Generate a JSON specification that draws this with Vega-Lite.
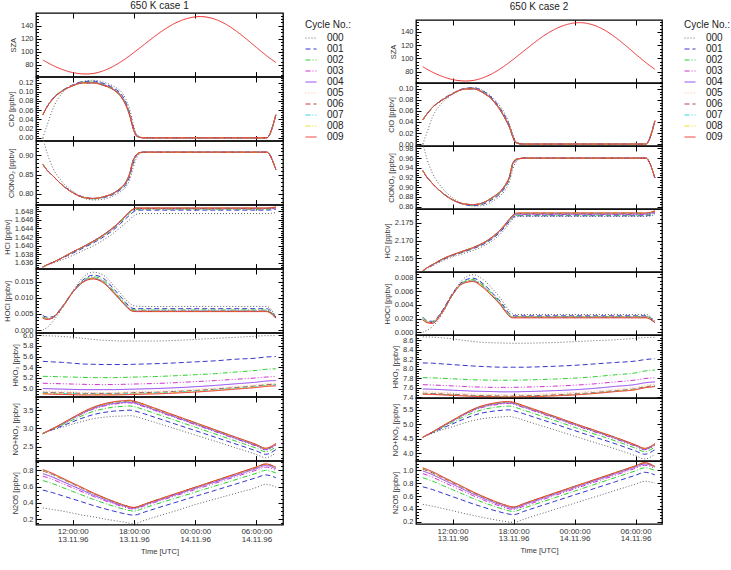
{
"$schema":"https://vega.github.io/schema/vega-lite/v6.json",
"padding":{"left":2,"top":0,"right":0,"bottom":0},
"config":{
 "font":"Liberation Sans",
 "view":{"stroke":"#000","strokeWidth":1.3},
 "line":{"strokeWidth":1,"interpolate":"monotone","clip":true},
 "axis":{"grid":false,"domain":false,"tickColor":"#000","tickSize":-5,"labelPadding":8,"labelColor":"#333","titleColor":"#333","titleFontWeight":"normal","titleFontSize":7.5,"labelFontSize":7.5,"titlePadding":3,"labelOverlap":false},
 "axisX":{"labelFontSize":8,"labelLineHeight":7.5,"maxExtent":0,"minExtent":0},
 "range":{"category":["#606060","#3434d0","#30d030","#d030d0","#8c3cf0","#ffb080","#b84040","#30d8d8","#e8e020","#ee2c2c"]},
 "legend":{"symbolType":"stroke","symbolSize":121,"symbolStrokeWidth":1.2,"labelFontSize":10,"titleFontSize":10,"titleFontWeight":"normal","rowPadding":0,"labelOffset":10,"titleColor":"#222","labelColor":"#222","offset":13,"padding":7,"titlePadding":2},
 "title":{"fontSize":10,"fontWeight":"normal","color":"#222"},
 "concat":{"spacing":0}
},
"datasets":{
"c1":[
{"p":"SZA","t":9.07,"009":87.5},{"p":"SZA","t":10,"009":79.5},{"p":"SZA","t":11,"009":72.8},{"p":"SZA","t":12,"009":68.2},{"p":"SZA","t":13.3,"009":66},{"p":"SZA","t":14,"009":66.8},{"p":"SZA","t":15,"009":70.9},{"p":"SZA","t":16,"009":78},{"p":"SZA","t":17,"009":87.6},{"p":"SZA","t":18,"009":99},{"p":"SZA","t":19,"009":111.2},{"p":"SZA","t":20,"009":123.3},{"p":"SZA","t":21,"009":134.5},{"p":"SZA","t":22,"009":143.6},{"p":"SZA","t":23,"009":150.1},{"p":"SZA","t":24.5,"009":154},{"p":"SZA","t":26,"009":149.6},{"p":"SZA","t":27,"009":142.3},{"p":"SZA","t":28,"009":132},{"p":"SZA","t":29,"009":119.8},{"p":"SZA","t":30,"009":106.7},{"p":"SZA","t":31,"009":93.9},{"p":"SZA","t":31.9,"009":83.5},
{"p":"ClO","t":9.07,"000":0,"001":0.05,"002":0.05,"003":0.05,"004":0.05,"005":0.05,"006":0.05,"007":0.05,"008":0.05,"009":0.05},
{"p":"ClO","t":9.5,"000":0.028,"001":0.068,"002":0.068,"003":0.068,"004":0.068,"005":0.068,"006":0.068,"007":0.068,"008":0.068,"009":0.068},
{"p":"ClO","t":10,"000":0.06,"001":0.084,"002":0.084,"003":0.084,"004":0.083,"005":0.083,"006":0.083,"007":0.083,"008":0.083,"009":0.083},
{"p":"ClO","t":11,"000":0.098,"001":0.103,"002":0.103,"003":0.102,"004":0.102,"005":0.102,"006":0.102,"007":0.102,"008":0.102,"009":0.102},
{"p":"ClO","t":12,"000":0.114,"001":0.115,"002":0.114,"003":0.114,"004":0.113,"005":0.113,"006":0.113,"007":0.113,"008":0.113,"009":0.113},
{"p":"ClO","t":13,"000":0.122,"001":0.122,"002":0.121,"003":0.12,"004":0.12,"005":0.119,"006":0.119,"007":0.119,"008":0.119,"009":0.119},
{"p":"ClO","t":14,"000":0.125,"001":0.123,"002":0.121,"003":0.12,"004":0.12,"005":0.119,"006":0.119,"007":0.119,"008":0.119,"009":0.119},
{"p":"ClO","t":15,"000":0.121,"001":0.118,"002":0.116,"003":0.115,"004":0.115,"005":0.114,"006":0.114,"007":0.114,"008":0.114,"009":0.114},
{"p":"ClO","t":16,"000":0.112,"001":0.108,"002":0.106,"003":0.105,"004":0.105,"005":0.104,"006":0.104,"007":0.104,"008":0.104,"009":0.104},
{"p":"ClO","t":16.7,"000":0.101,"001":0.096,"002":0.093,"003":0.092,"004":0.091,"005":0.09,"006":0.09,"007":0.09,"008":0.09,"009":0.09},
{"p":"ClO","t":17.2,"000":0.084,"001":0.077,"002":0.074,"003":0.073,"004":0.072,"005":0.071,"006":0.071,"007":0.071,"008":0.071,"009":0.071},
{"p":"ClO","t":17.6,"000":0.06,"001":0.052,"002":0.05,"003":0.049,"004":0.048,"005":0.047,"006":0.047,"007":0.047,"008":0.047,"009":0.047},
{"p":"ClO","t":17.9,"000":0.032,"001":0.026,"002":0.024,"003":0.023,"004":0.022,"005":0.022,"006":0.022,"007":0.022,"008":0.022,"009":0.022},
{"p":"ClO","t":18.2,"000":0.01,"001":0.007,"002":0.006,"003":0.006,"004":0.006,"005":0.005,"006":0.005,"007":0.005,"008":0.005,"009":0.005},
{"p":"ClO","t":18.6,"000":0.002,"001":0.001,"002":0.001,"003":0.001,"004":0.001,"005":0.001,"006":0.001,"007":0.001,"008":0.001,"009":0.001},
{"p":"ClO","t":19,"000":0,"001":0,"002":0,"003":0,"004":0,"005":0,"006":0,"007":0,"008":0,"009":0},
{"p":"ClO","t":31,"000":0,"001":0,"002":0,"003":0,"004":0,"005":0,"006":0,"007":0,"008":0,"009":0},
{"p":"ClO","t":31.9,"000":0.048,"001":0.05,"002":0.05,"003":0.05,"004":0.05,"005":0.05,"006":0.05,"007":0.05,"008":0.05,"009":0.05},
{"p":"ClONO2","t":9.07,"000":0.945,"001":0.876,"002":0.876,"003":0.876,"004":0.876,"005":0.876,"006":0.876,"007":0.876,"008":0.876,"009":0.876},
{"p":"ClONO2","t":9.5,"000":0.905,"001":0.861,"002":0.861,"003":0.861,"004":0.861,"005":0.861,"006":0.861,"007":0.861,"008":0.861,"009":0.861},
{"p":"ClONO2","t":10,"000":0.87,"001":0.848,"002":0.848,"003":0.848,"004":0.848,"005":0.848,"006":0.848,"007":0.848,"008":0.848,"009":0.848},
{"p":"ClONO2","t":11,"000":0.83,"001":0.822,"002":0.822,"003":0.822,"004":0.822,"005":0.822,"006":0.822,"007":0.822,"008":0.822,"009":0.822},
{"p":"ClONO2","t":12,"000":0.806,"001":0.804,"002":0.803,"003":0.803,"004":0.803,"005":0.803,"006":0.803,"007":0.803,"008":0.803,"009":0.803},
{"p":"ClONO2","t":13,"000":0.79,"001":0.792,"002":0.791,"003":0.791,"004":0.791,"005":0.791,"006":0.791,"007":0.791,"008":0.791,"009":0.791},
{"p":"ClONO2","t":14,"000":0.784,"001":0.787,"002":0.787,"003":0.788,"004":0.788,"005":0.788,"006":0.788,"007":0.788,"008":0.788,"009":0.788},
{"p":"ClONO2","t":15,"000":0.786,"001":0.79,"002":0.791,"003":0.792,"004":0.792,"005":0.792,"006":0.792,"007":0.792,"008":0.792,"009":0.792},
{"p":"ClONO2","t":16,"000":0.795,"001":0.799,"002":0.801,"003":0.802,"004":0.802,"005":0.802,"006":0.802,"007":0.802,"008":0.802,"009":0.802},
{"p":"ClONO2","t":16.7,"000":0.806,"001":0.811,"002":0.813,"003":0.814,"004":0.815,"005":0.815,"006":0.815,"007":0.815,"008":0.815,"009":0.815},
{"p":"ClONO2","t":17.2,"000":0.818,"001":0.824,"002":0.827,"003":0.829,"004":0.829,"005":0.83,"006":0.83,"007":0.83,"008":0.83,"009":0.83},
{"p":"ClONO2","t":17.6,"000":0.838,"001":0.847,"002":0.851,"003":0.852,"004":0.853,"005":0.854,"006":0.854,"007":0.855,"008":0.855,"009":0.855},
{"p":"ClONO2","t":17.9,"000":0.866,"001":0.877,"002":0.881,"003":0.883,"004":0.884,"005":0.885,"006":0.885,"007":0.886,"008":0.886,"009":0.886},
{"p":"ClONO2","t":18.2,"000":0.89,"001":0.897,"002":0.899,"003":0.9,"004":0.9,"005":0.9,"006":0.9,"007":0.9,"008":0.9,"009":0.9},
{"p":"ClONO2","t":18.6,"000":0.905,"001":0.907,"002":0.907,"003":0.907,"004":0.907,"005":0.907,"006":0.907,"007":0.907,"008":0.907,"009":0.907},
{"p":"ClONO2","t":19,"000":0.908,"001":0.908,"002":0.908,"003":0.908,"004":0.908,"005":0.908,"006":0.908,"007":0.908,"008":0.908,"009":0.908},
{"p":"ClONO2","t":31,"000":0.908,"001":0.908,"002":0.908,"003":0.908,"004":0.908,"005":0.908,"006":0.908,"007":0.908,"008":0.908,"009":0.908},
{"p":"ClONO2","t":31.9,"000":0.863,"001":0.863,"002":0.863,"003":0.863,"004":0.863,"005":0.863,"006":0.863,"007":0.863,"008":0.863,"009":0.863},
{"p":"HCl","t":9.07,"000":1.635,"001":1.635,"002":1.635,"003":1.635,"004":1.635,"005":1.635,"006":1.635,"007":1.635,"008":1.635,"009":1.635},
{"p":"HCl","t":9.5,"000":1.6354,"001":1.6355,"002":1.6355,"003":1.6355,"004":1.6355,"005":1.6355,"006":1.6355,"007":1.6355,"008":1.6355,"009":1.6355},
{"p":"HCl","t":10,"000":1.6358,"001":1.636,"002":1.636,"003":1.636,"004":1.636,"005":1.636,"006":1.636,"007":1.636,"008":1.636,"009":1.636},
{"p":"HCl","t":11,"000":1.6367,"001":1.6371,"002":1.6372,"003":1.6372,"004":1.6372,"005":1.6372,"006":1.6372,"007":1.6372,"008":1.6372,"009":1.6372},
{"p":"HCl","t":12,"000":1.6377,"001":1.6382,"002":1.6384,"003":1.6385,"004":1.6385,"005":1.6385,"006":1.6385,"007":1.6385,"008":1.6385,"009":1.6385},
{"p":"HCl","t":13,"000":1.6388,"001":1.6394,"002":1.6396,"003":1.6397,"004":1.6397,"005":1.6397,"006":1.6397,"007":1.6397,"008":1.6397,"009":1.6397},
{"p":"HCl","t":14,"000":1.6399,"001":1.6406,"002":1.6408,"003":1.6409,"004":1.641,"005":1.641,"006":1.641,"007":1.641,"008":1.641,"009":1.641},
{"p":"HCl","t":15,"000":1.6413,"001":1.642,"002":1.6423,"003":1.6424,"004":1.6425,"005":1.6425,"006":1.6425,"007":1.6425,"008":1.6425,"009":1.6425},
{"p":"HCl","t":16,"000":1.6429,"001":1.6437,"002":1.644,"003":1.6441,"004":1.6442,"005":1.6443,"006":1.6443,"007":1.6443,"008":1.6443,"009":1.6443},
{"p":"HCl","t":16.7,"000":1.6443,"001":1.6452,"002":1.6455,"003":1.6457,"004":1.6458,"005":1.6458,"006":1.6458,"007":1.6458,"008":1.6458,"009":1.6458},
{"p":"HCl","t":17.2,"000":1.6453,"001":1.6463,"002":1.6467,"003":1.6469,"004":1.647,"005":1.647,"006":1.647,"007":1.647,"008":1.647,"009":1.647},
{"p":"HCl","t":17.6,"000":1.6461,"001":1.6472,"002":1.6477,"003":1.6479,"004":1.648,"005":1.648,"006":1.648,"007":1.648,"008":1.648,"009":1.648},
{"p":"HCl","t":17.9,"000":1.6468,"001":1.6478,"002":1.6482,"003":1.6484,"004":1.6485,"005":1.6485,"006":1.6485,"007":1.6485,"008":1.6485,"009":1.6485},
{"p":"HCl","t":18.2,"000":1.6473,"001":1.6482,"002":1.6484,"003":1.6486,"004":1.6487,"005":1.6487,"006":1.6487,"007":1.6488,"008":1.6488,"009":1.6488},
{"p":"HCl","t":18.6,"000":1.6475,"001":1.6483,"002":1.6485,"003":1.6486,"004":1.6487,"005":1.6487,"006":1.6487,"007":1.6488,"008":1.6488,"009":1.6488},
{"p":"HCl","t":19,"000":1.6475,"001":1.6483,"002":1.6485,"003":1.6486,"004":1.6487,"005":1.6487,"006":1.6487,"007":1.6488,"008":1.6488,"009":1.6488},
{"p":"HCl","t":31,"000":1.6475,"001":1.6483,"002":1.6485,"003":1.6486,"004":1.6487,"005":1.6487,"006":1.6487,"007":1.6488,"008":1.6488,"009":1.6488},
{"p":"HCl","t":31.9,"000":1.6477,"001":1.6485,"002":1.6487,"003":1.6488,"004":1.6489,"005":1.6489,"006":1.6489,"007":1.649,"008":1.649,"009":1.649},
{"p":"HOCl","t":9.07,"000":0,"001":0.0045,"002":0.0041,"003":0.0039,"004":0.0038,"005":0.0038,"006":0.0038,"007":0.0038,"008":0.0038,"009":0.0037},
{"p":"HOCl","t":9.5,"000":0.0008,"001":0.004,"002":0.0036,"003":0.0035,"004":0.0034,"005":0.0034,"006":0.0034,"007":0.0034,"008":0.0034,"009":0.0033},
{"p":"HOCl","t":10,"000":0.0025,"001":0.0041,"002":0.0039,"003":0.0038,"004":0.0037,"005":0.0037,"006":0.0037,"007":0.0037,"008":0.0037,"009":0.0037},
{"p":"HOCl","t":11,"000":0.0068,"001":0.0074,"002":0.0073,"003":0.0072,"004":0.0072,"005":0.0072,"006":0.0072,"007":0.0072,"008":0.0072,"009":0.0072},
{"p":"HOCl","t":12,"000":0.012,"001":0.0119,"002":0.0118,"003":0.0117,"004":0.0117,"005":0.0117,"006":0.0117,"007":0.0117,"008":0.0117,"009":0.0117},
{"p":"HOCl","t":13,"000":0.0163,"001":0.0155,"002":0.0152,"003":0.015,"004":0.0149,"005":0.0149,"006":0.0149,"007":0.0149,"008":0.0149,"009":0.0148},
{"p":"HOCl","t":14,"000":0.0179,"001":0.017,"002":0.0165,"003":0.0161,"004":0.016,"005":0.016,"006":0.016,"007":0.016,"008":0.016,"009":0.0158},
{"p":"HOCl","t":15,"000":0.017,"001":0.016,"002":0.0154,"003":0.015,"004":0.0148,"005":0.0148,"006":0.0148,"007":0.0148,"008":0.0148,"009":0.0146},
{"p":"HOCl","t":16,"000":0.0138,"001":0.0128,"002":0.0122,"003":0.0119,"004":0.0117,"005":0.0117,"006":0.0117,"007":0.0117,"008":0.0117,"009":0.0115},
{"p":"HOCl","t":16.7,"000":0.0113,"001":0.0103,"002":0.0097,"003":0.0094,"004":0.0093,"005":0.0093,"006":0.0093,"007":0.0093,"008":0.0093,"009":0.0091},
{"p":"HOCl","t":17.2,"000":0.0094,"001":0.0085,"002":0.008,"003":0.0077,"004":0.0076,"005":0.0076,"006":0.0076,"007":0.0076,"008":0.0076,"009":0.0074},
{"p":"HOCl","t":17.6,"000":0.0082,"001":0.0072,"002":0.0067,"003":0.0065,"004":0.0063,"005":0.0063,"006":0.0063,"007":0.0063,"008":0.0063,"009":0.0062},
{"p":"HOCl","t":17.9,"000":0.0076,"001":0.0067,"002":0.0063,"003":0.006,"004":0.0059,"005":0.0059,"006":0.0059,"007":0.0059,"008":0.0059,"009":0.0058},
{"p":"HOCl","t":18.2,"000":0.0074,"001":0.0066,"002":0.0062,"003":0.0059,"004":0.0058,"005":0.0058,"006":0.0058,"007":0.0058,"008":0.0058,"009":0.0057},
{"p":"HOCl","t":19,"000":0.0073,"001":0.0066,"002":0.0062,"003":0.0059,"004":0.0058,"005":0.0058,"006":0.0058,"007":0.0058,"008":0.0058,"009":0.0057},
{"p":"HOCl","t":31,"000":0.0073,"001":0.0066,"002":0.0062,"003":0.0059,"004":0.0058,"005":0.0058,"006":0.0058,"007":0.0058,"008":0.0058,"009":0.0057},
{"p":"HOCl","t":31.9,"000":0.004,"001":0.004,"002":0.0039,"003":0.0038,"004":0.0037,"005":0.0037,"006":0.0037,"007":0.0037,"008":0.0037,"009":0.0037},
{"p":"HNO3","t":9.07,"000":5.99,"001":5.51,"002":5.23,"003":5.1,"004":5,"005":4.95,"006":4.93,"007":4.92,"008":4.91,"009":4.9},
{"p":"HNO3","t":10,"000":5.985,"001":5.5,"002":5.225,"003":5.095,"004":4.995,"005":4.945,"006":4.925,"007":4.915,"008":4.905,"009":4.895},
{"p":"HNO3","t":11,"000":5.975,"001":5.49,"002":5.22,"003":5.09,"004":4.99,"005":4.94,"006":4.92,"007":4.91,"008":4.9,"009":4.89},
{"p":"HNO3","t":12,"000":5.96,"001":5.475,"002":5.215,"003":5.085,"004":4.985,"005":4.935,"006":4.915,"007":4.905,"008":4.895,"009":4.885},
{"p":"HNO3","t":13,"000":5.94,"001":5.46,"002":5.21,"003":5.08,"004":4.98,"005":4.93,"006":4.91,"007":4.9,"008":4.89,"009":4.88},
{"p":"HNO3","t":14,"000":5.92,"001":5.455,"002":5.205,"003":5.075,"004":4.98,"005":4.93,"006":4.91,"007":4.9,"008":4.89,"009":4.88},
{"p":"HNO3","t":15,"000":5.905,"001":5.45,"002":5.205,"003":5.075,"004":4.98,"005":4.93,"006":4.91,"007":4.9,"008":4.89,"009":4.88},
{"p":"HNO3","t":16,"000":5.895,"001":5.45,"002":5.205,"003":5.075,"004":4.98,"005":4.93,"006":4.91,"007":4.9,"008":4.89,"009":4.88},
{"p":"HNO3","t":17,"000":5.89,"001":5.45,"002":5.21,"003":5.08,"004":4.985,"005":4.935,"006":4.915,"007":4.905,"008":4.895,"009":4.885},
{"p":"HNO3","t":18,"000":5.89,"001":5.455,"002":5.215,"003":5.085,"004":4.99,"005":4.94,"006":4.92,"007":4.91,"008":4.9,"009":4.89},
{"p":"HNO3","t":19,"000":5.89,"001":5.46,"002":5.22,"003":5.09,"004":4.995,"005":4.945,"006":4.925,"007":4.915,"008":4.905,"009":4.895},
{"p":"HNO3","t":20,"000":5.89,"001":5.465,"002":5.225,"003":5.095,"004":5,"005":4.95,"006":4.93,"007":4.92,"008":4.91,"009":4.9},
{"p":"HNO3","t":22,"000":5.9,"001":5.48,"002":5.24,"003":5.11,"004":5.015,"005":4.965,"006":4.945,"007":4.935,"008":4.925,"009":4.915},
{"p":"HNO3","t":24,"000":5.92,"001":5.5,"002":5.26,"003":5.13,"004":5.035,"005":4.985,"006":4.965,"007":4.955,"008":4.945,"009":4.935},
{"p":"HNO3","t":26,"000":5.94,"001":5.52,"002":5.28,"003":5.15,"004":5.06,"005":5.01,"006":4.99,"007":4.98,"008":4.97,"009":4.96},
{"p":"HNO3","t":28,"000":5.96,"001":5.55,"002":5.31,"003":5.175,"004":5.09,"005":5.04,"006":5.02,"007":5.01,"008":5,"009":4.99},
{"p":"HNO3","t":30,"000":5.98,"001":5.57,"002":5.34,"003":5.2,"004":5.12,"005":5.07,"006":5.05,"007":5.04,"008":5.03,"009":5.02},
{"p":"HNO3","t":30.9,"000":5.99,"001":5.59,"002":5.36,"003":5.215,"004":5.14,"005":5.09,"006":5.07,"007":5.06,"008":5.05,"009":5.04},
{"p":"HNO3","t":31.9,"000":5.99,"001":5.6,"002":5.37,"003":5.225,"004":5.15,"005":5.1,"006":5.08,"007":5.07,"008":5.06,"009":5.05},
{"p":"NOx","t":9.07,"000":2.86,"001":2.86,"002":2.86,"003":2.86,"004":2.86,"005":2.86,"006":2.86,"007":2.86,"008":2.86,"009":2.86},
{"p":"NOx","t":10,"000":2.956,"001":2.968,"002":2.978,"003":2.984,"004":2.986,"005":2.987,"006":2.988,"007":2.989,"008":2.989,"009":2.99},
{"p":"NOx","t":11,"000":3.035,"001":3.072,"002":3.101,"003":3.122,"004":3.128,"005":3.133,"006":3.135,"007":3.136,"008":3.137,"009":3.14},
{"p":"NOx","t":12,"000":3.119,"001":3.184,"002":3.233,"003":3.27,"004":3.279,"005":3.287,"006":3.291,"007":3.294,"008":3.296,"009":3.3},
{"p":"NOx","t":13,"000":3.198,"001":3.288,"002":3.357,"003":3.408,"004":3.42,"005":3.432,"006":3.438,"007":3.441,"008":3.444,"009":3.45},
{"p":"NOx","t":14,"000":3.265,"001":3.377,"002":3.464,"003":3.527,"004":3.543,"005":3.558,"006":3.565,"007":3.569,"008":3.572,"009":3.58},
{"p":"NOx","t":15,"000":3.305,"001":3.435,"002":3.535,"003":3.609,"004":3.627,"005":3.644,"006":3.653,"007":3.657,"008":3.661,"009":3.67},
{"p":"NOx","t":16,"000":3.331,"001":3.473,"002":3.583,"003":3.663,"004":3.683,"005":3.701,"006":3.711,"007":3.716,"008":3.72,"009":3.73},
{"p":"NOx","t":17,"000":3.34,"001":3.49,"002":3.605,"003":3.69,"004":3.71,"005":3.73,"006":3.74,"007":3.745,"008":3.75,"009":3.76},
{"p":"NOx","t":17.6,"000":3.35,"001":3.5,"002":3.615,"003":3.7,"004":3.72,"005":3.74,"006":3.75,"007":3.755,"008":3.76,"009":3.77},
{"p":"NOx","t":18,"000":3.334,"001":3.483,"002":3.597,"003":3.681,"004":3.7,"005":3.72,"006":3.73,"007":3.735,"008":3.74,"009":3.75},
{"p":"NOx","t":19,"000":3.257,"001":3.401,"002":3.511,"003":3.593,"004":3.612,"005":3.631,"006":3.641,"007":3.646,"008":3.65,"009":3.66},
{"p":"NOx","t":20,"000":3.169,"001":3.309,"002":3.416,"003":3.495,"004":3.514,"005":3.532,"006":3.541,"007":3.546,"008":3.551,"009":3.56},
{"p":"NOx","t":22,"000":2.995,"001":3.125,"002":3.225,"003":3.299,"004":3.317,"005":3.334,"006":3.343,"007":3.347,"008":3.351,"009":3.36},
{"p":"NOx","t":24,"000":2.82,"001":2.941,"002":3.034,"003":3.103,"004":3.12,"005":3.136,"006":3.144,"007":3.148,"008":3.152,"009":3.16},
{"p":"NOx","t":26,"000":2.645,"001":2.757,"002":2.844,"003":2.907,"004":2.923,"005":2.937,"006":2.945,"007":2.949,"008":2.952,"009":2.96},
{"p":"NOx","t":28,"000":2.466,"001":2.571,"002":2.651,"003":2.711,"004":2.725,"005":2.739,"006":2.746,"007":2.75,"008":2.753,"009":2.76},
{"p":"NOx","t":30,"000":2.287,"001":2.384,"002":2.459,"003":2.514,"004":2.528,"005":2.54,"006":2.547,"007":2.55,"008":2.553,"009":2.56},
{"p":"NOx","t":30.9,"000":2.2,"001":2.293,"002":2.364,"003":2.417,"004":2.429,"005":2.441,"006":2.448,"007":2.451,"008":2.454,"009":2.46},
{"p":"NOx","t":31.9,"000":2.33,"001":2.423,"002":2.494,"003":2.547,"004":2.559,"005":2.571,"006":2.578,"007":2.581,"008":2.584,"009":2.59},
{"p":"N2O5","t":9.07,"000":0.34,"001":0.558,"002":0.675,"003":0.73,"004":0.76,"005":0.785,"006":0.795,"007":0.8,"008":0.805,"009":0.81},
{"p":"N2O5","t":10,"000":0.32,"001":0.528,"002":0.639,"003":0.691,"004":0.719,"005":0.742,"006":0.751,"007":0.756,"008":0.76,"009":0.765},
{"p":"N2O5","t":11,"000":0.3,"001":0.488,"002":0.59,"003":0.638,"004":0.664,"005":0.684,"006":0.693,"007":0.697,"008":0.701,"009":0.705},
{"p":"N2O5","t":12,"000":0.275,"001":0.449,"002":0.542,"003":0.586,"004":0.609,"005":0.627,"006":0.635,"007":0.638,"008":0.642,"009":0.645},
{"p":"N2O5","t":13,"000":0.25,"001":0.409,"002":0.493,"003":0.534,"004":0.554,"005":0.57,"006":0.576,"007":0.579,"008":0.582,"009":0.585},
{"p":"N2O5","t":14,"000":0.23,"001":0.369,"002":0.445,"003":0.482,"004":0.499,"005":0.512,"006":0.518,"007":0.52,"008":0.523,"009":0.525},
{"p":"N2O5","t":15,"000":0.205,"001":0.333,"002":0.401,"003":0.434,"004":0.449,"005":0.46,"006":0.465,"007":0.467,"008":0.469,"009":0.47},
{"p":"N2O5","t":16,"000":0.185,"001":0.3,"002":0.36,"003":0.39,"004":0.403,"005":0.412,"006":0.416,"007":0.417,"008":0.419,"009":0.42},
{"p":"N2O5","t":17,"000":0.165,"001":0.27,"002":0.324,"003":0.351,"004":0.363,"005":0.369,"006":0.372,"007":0.374,"008":0.375,"009":0.375},
{"p":"N2O5","t":18,"000":0.145,"001":0.25,"002":0.3,"003":0.325,"004":0.335,"005":0.34,"006":0.343,"007":0.344,"008":0.345,"009":0.345},
{"p":"N2O5","t":19,"000":0.185,"001":0.287,"002":0.338,"003":0.364,"004":0.374,"005":0.38,"006":0.383,"007":0.384,"008":0.385,"009":0.385},
{"p":"N2O5","t":20,"000":0.225,"001":0.327,"002":0.378,"003":0.405,"004":0.416,"005":0.422,"006":0.425,"007":0.427,"008":0.428,"009":0.428},
{"p":"N2O5","t":22,"000":0.3,"001":0.404,"002":0.456,"003":0.485,"004":0.498,"005":0.505,"006":0.508,"007":0.51,"008":0.511,"009":0.511},
{"p":"N2O5","t":24,"000":0.38,"001":0.481,"002":0.533,"003":0.565,"004":0.58,"005":0.587,"006":0.591,"007":0.592,"008":0.594,"009":0.594},
{"p":"N2O5","t":26,"000":0.45,"001":0.557,"002":0.611,"003":0.645,"004":0.661,"005":0.669,"006":0.673,"007":0.675,"008":0.677,"009":0.677},
{"p":"N2O5","t":28,"000":0.52,"001":0.634,"002":0.688,"003":0.725,"004":0.742,"005":0.751,"006":0.756,"007":0.758,"008":0.76,"009":0.76},
{"p":"N2O5","t":30,"000":0.59,"001":0.711,"002":0.766,"003":0.804,"004":0.824,"005":0.833,"006":0.838,"007":0.84,"008":0.842,"009":0.843},
{"p":"N2O5","t":30.9,"000":0.63,"001":0.745,"002":0.8,"003":0.84,"004":0.86,"005":0.87,"006":0.875,"007":0.877,"008":0.879,"009":0.88},
{"p":"N2O5","t":31.9,"000":0.595,"001":0.71,"002":0.77,"003":0.8,"004":0.82,"005":0.83,"006":0.835,"007":0.837,"008":0.839,"009":0.84}
],
"c2":[
{"p":"SZA","t":9.07,"009":87.5},{"p":"SZA","t":10,"009":79.5},{"p":"SZA","t":11,"009":72.8},{"p":"SZA","t":12,"009":68.2},{"p":"SZA","t":13.3,"009":66},{"p":"SZA","t":14,"009":66.8},{"p":"SZA","t":15,"009":70.9},{"p":"SZA","t":16,"009":78},{"p":"SZA","t":17,"009":87.6},{"p":"SZA","t":18,"009":99},{"p":"SZA","t":19,"009":111.2},{"p":"SZA","t":20,"009":123.3},{"p":"SZA","t":21,"009":134.5},{"p":"SZA","t":22,"009":143.6},{"p":"SZA","t":23,"009":150.1},{"p":"SZA","t":24.5,"009":154},{"p":"SZA","t":26,"009":149.6},{"p":"SZA","t":27,"009":142.3},{"p":"SZA","t":28,"009":132},{"p":"SZA","t":29,"009":119.8},{"p":"SZA","t":30,"009":106.7},{"p":"SZA","t":31,"009":93.9},{"p":"SZA","t":31.9,"009":83.5},
{"p":"ClO","t":9.07,"000":0,"001":0.044,"002":0.044,"003":0.044,"004":0.044,"005":0.044,"006":0.044,"007":0.044,"008":0.044,"009":0.044},
{"p":"ClO","t":9.5,"000":0.022,"001":0.055,"002":0.055,"003":0.055,"004":0.055,"005":0.055,"006":0.055,"007":0.055,"008":0.055,"009":0.055},
{"p":"ClO","t":10,"000":0.048,"001":0.066,"002":0.066,"003":0.066,"004":0.066,"005":0.066,"006":0.066,"007":0.066,"008":0.066,"009":0.066},
{"p":"ClO","t":11,"000":0.075,"001":0.081,"002":0.08,"003":0.08,"004":0.08,"005":0.08,"006":0.08,"007":0.08,"008":0.08,"009":0.08},
{"p":"ClO","t":12,"000":0.09,"001":0.092,"002":0.091,"003":0.091,"004":0.091,"005":0.091,"006":0.091,"007":0.091,"008":0.091,"009":0.091},
{"p":"ClO","t":13,"000":0.1,"001":0.1,"002":0.099,"003":0.099,"004":0.099,"005":0.099,"006":0.099,"007":0.099,"008":0.099,"009":0.099},
{"p":"ClO","t":14,"000":0.102,"001":0.102,"002":0.101,"003":0.101,"004":0.1,"005":0.1,"006":0.1,"007":0.1,"008":0.1,"009":0.1},
{"p":"ClO","t":15,"000":0.097,"001":0.096,"002":0.094,"003":0.094,"004":0.093,"005":0.093,"006":0.093,"007":0.093,"008":0.093,"009":0.093},
{"p":"ClO","t":16,"000":0.083,"001":0.081,"002":0.079,"003":0.079,"004":0.078,"005":0.078,"006":0.078,"007":0.078,"008":0.078,"009":0.078},
{"p":"ClO","t":16.7,"000":0.068,"001":0.064,"002":0.062,"003":0.062,"004":0.061,"005":0.061,"006":0.061,"007":0.061,"008":0.061,"009":0.061},
{"p":"ClO","t":17.2,"000":0.053,"001":0.049,"002":0.046,"003":0.046,"004":0.045,"005":0.045,"006":0.045,"007":0.045,"008":0.045,"009":0.045},
{"p":"ClO","t":17.6,"000":0.036,"001":0.033,"002":0.031,"003":0.031,"004":0.03,"005":0.03,"006":0.03,"007":0.03,"008":0.03,"009":0.03},
{"p":"ClO","t":17.9,"000":0.019,"001":0.016,"002":0.015,"003":0.015,"004":0.014,"005":0.014,"006":0.014,"007":0.014,"008":0.014,"009":0.014},
{"p":"ClO","t":18.2,"000":0.006,"001":0.004,"002":0.003,"003":0.003,"004":0.003,"005":0.003,"006":0.003,"007":0.003,"008":0.003,"009":0.003},
{"p":"ClO","t":18.6,"000":0.001,"001":0.001,"002":0.0005,"003":0.0005,"004":0.0005,"005":0.0005,"006":0.0005,"007":0.0005,"008":0.0005,"009":0.0005},
{"p":"ClO","t":19,"000":0,"001":0,"002":0,"003":0,"004":0,"005":0,"006":0,"007":0,"008":0,"009":0},
{"p":"ClO","t":31,"000":0,"001":0,"002":0,"003":0,"004":0,"005":0,"006":0,"007":0,"008":0,"009":0},
{"p":"ClO","t":31.9,"000":0.04,"001":0.042,"002":0.042,"003":0.042,"004":0.042,"005":0.042,"006":0.042,"007":0.042,"008":0.042,"009":0.042},
{"p":"ClONO2","t":9.07,"000":0.99,"001":0.934,"002":0.934,"003":0.934,"004":0.934,"005":0.934,"006":0.934,"007":0.934,"008":0.934,"009":0.934},
{"p":"ClONO2","t":9.5,"000":0.957,"001":0.92,"002":0.92,"003":0.92,"004":0.92,"005":0.92,"006":0.92,"007":0.92,"008":0.92,"009":0.92},
{"p":"ClONO2","t":10,"000":0.93,"001":0.908,"002":0.908,"003":0.908,"004":0.908,"005":0.908,"006":0.908,"007":0.908,"008":0.908,"009":0.908},
{"p":"ClONO2","t":11,"000":0.898,"001":0.888,"002":0.888,"003":0.888,"004":0.888,"005":0.888,"006":0.888,"007":0.888,"008":0.888,"009":0.888},
{"p":"ClONO2","t":12,"000":0.878,"001":0.874,"002":0.874,"003":0.874,"004":0.874,"005":0.874,"006":0.874,"007":0.874,"008":0.874,"009":0.874},
{"p":"ClONO2","t":13,"000":0.866,"001":0.865,"002":0.866,"003":0.866,"004":0.866,"005":0.866,"006":0.866,"007":0.866,"008":0.866,"009":0.866},
{"p":"ClONO2","t":14,"000":0.861,"001":0.862,"002":0.863,"003":0.864,"004":0.864,"005":0.864,"006":0.864,"007":0.864,"008":0.864,"009":0.864},
{"p":"ClONO2","t":15,"000":0.862,"001":0.865,"002":0.867,"003":0.868,"004":0.868,"005":0.868,"006":0.868,"007":0.868,"008":0.868,"009":0.868},
{"p":"ClONO2","t":16,"000":0.872,"001":0.876,"002":0.878,"003":0.88,"004":0.88,"005":0.88,"006":0.88,"007":0.88,"008":0.88,"009":0.88},
{"p":"ClONO2","t":16.7,"000":0.882,"001":0.887,"002":0.889,"003":0.891,"004":0.891,"005":0.891,"006":0.891,"007":0.891,"008":0.891,"009":0.891},
{"p":"ClONO2","t":17.2,"000":0.895,"001":0.901,"002":0.903,"003":0.905,"004":0.905,"005":0.905,"006":0.905,"007":0.905,"008":0.905,"009":0.905},
{"p":"ClONO2","t":17.6,"000":0.912,"001":0.918,"002":0.92,"003":0.922,"004":0.922,"005":0.922,"006":0.922,"007":0.922,"008":0.922,"009":0.922},
{"p":"ClONO2","t":17.9,"000":0.935,"001":0.944,"002":0.946,"003":0.948,"004":0.948,"005":0.948,"006":0.948,"007":0.948,"008":0.948,"009":0.948},
{"p":"ClONO2","t":18.2,"000":0.951,"001":0.955,"002":0.956,"003":0.957,"004":0.957,"005":0.957,"006":0.957,"007":0.957,"008":0.957,"009":0.957},
{"p":"ClONO2","t":18.6,"000":0.958,"001":0.959,"002":0.959,"003":0.959,"004":0.959,"005":0.959,"006":0.959,"007":0.959,"008":0.959,"009":0.959},
{"p":"ClONO2","t":19,"000":0.96,"001":0.96,"002":0.96,"003":0.96,"004":0.96,"005":0.96,"006":0.96,"007":0.96,"008":0.96,"009":0.96},
{"p":"ClONO2","t":31,"000":0.96,"001":0.96,"002":0.96,"003":0.96,"004":0.96,"005":0.96,"006":0.96,"007":0.96,"008":0.96,"009":0.96},
{"p":"ClONO2","t":31.9,"000":0.919,"001":0.919,"002":0.919,"003":0.919,"004":0.919,"005":0.919,"006":0.919,"007":0.919,"008":0.919,"009":0.919},
{"p":"HCl","t":9.07,"000":2.1615,"001":2.1615,"002":2.1615,"003":2.1615,"004":2.1615,"005":2.1615,"006":2.1615,"007":2.1615,"008":2.1615,"009":2.1615},
{"p":"HCl","t":9.5,"000":2.1622,"001":2.1623,"002":2.1624,"003":2.1624,"004":2.1624,"005":2.1624,"006":2.1624,"007":2.1624,"008":2.1624,"009":2.1624},
{"p":"HCl","t":10,"000":2.1629,"001":2.1631,"002":2.1632,"003":2.1632,"004":2.1632,"005":2.1632,"006":2.1632,"007":2.1632,"008":2.1632,"009":2.1632},
{"p":"HCl","t":11,"000":2.1643,"001":2.1646,"002":2.1647,"003":2.1648,"004":2.1648,"005":2.1648,"006":2.1648,"007":2.1648,"008":2.1648,"009":2.1648},
{"p":"HCl","t":12,"000":2.1654,"001":2.1658,"002":2.1659,"003":2.166,"004":2.166,"005":2.166,"006":2.166,"007":2.166,"008":2.166,"009":2.166},
{"p":"HCl","t":13,"000":2.1663,"001":2.1667,"002":2.1668,"003":2.1669,"004":2.167,"005":2.167,"006":2.167,"007":2.167,"008":2.167,"009":2.167},
{"p":"HCl","t":14,"000":2.1672,"001":2.1677,"002":2.1678,"003":2.1679,"004":2.168,"005":2.168,"006":2.168,"007":2.168,"008":2.168,"009":2.168},
{"p":"HCl","t":15,"000":2.1684,"001":2.1689,"002":2.1691,"003":2.1692,"004":2.1693,"005":2.1693,"006":2.1693,"007":2.1693,"008":2.1693,"009":2.1693},
{"p":"HCl","t":16,"000":2.1701,"001":2.1707,"002":2.1709,"003":2.171,"004":2.1711,"005":2.1711,"006":2.1712,"007":2.1712,"008":2.1712,"009":2.1712},
{"p":"HCl","t":16.7,"000":2.1718,"001":2.1724,"002":2.1727,"003":2.1728,"004":2.1729,"005":2.1729,"006":2.173,"007":2.173,"008":2.173,"009":2.173},
{"p":"HCl","t":17.2,"000":2.1734,"001":2.174,"002":2.1743,"003":2.1744,"004":2.1745,"005":2.1745,"006":2.1746,"007":2.1746,"008":2.1746,"009":2.1746},
{"p":"HCl","t":17.6,"000":2.1748,"001":2.1754,"002":2.1757,"003":2.1758,"004":2.1759,"005":2.1759,"006":2.176,"007":2.176,"008":2.176,"009":2.176},
{"p":"HCl","t":17.9,"000":2.1759,"001":2.1763,"002":2.1766,"003":2.1767,"004":2.1768,"005":2.1768,"006":2.1769,"007":2.1769,"008":2.177,"009":2.177},
{"p":"HCl","t":18.2,"000":2.1765,"001":2.1768,"002":2.177,"003":2.1772,"004":2.1773,"005":2.1774,"006":2.1775,"007":2.1775,"008":2.1776,"009":2.1776},
{"p":"HCl","t":18.6,"000":2.1767,"001":2.1769,"002":2.1771,"003":2.1773,"004":2.1774,"005":2.1775,"006":2.1776,"007":2.1776,"008":2.1777,"009":2.1777},
{"p":"HCl","t":19,"000":2.1767,"001":2.1769,"002":2.1771,"003":2.1773,"004":2.1774,"005":2.1775,"006":2.1776,"007":2.1776,"008":2.1777,"009":2.1777},
{"p":"HCl","t":31,"000":2.1767,"001":2.1769,"002":2.1771,"003":2.1773,"004":2.1774,"005":2.1775,"006":2.1776,"007":2.1776,"008":2.1777,"009":2.1777},
{"p":"HCl","t":31.9,"000":2.1772,"001":2.1775,"002":2.1777,"003":2.1779,"004":2.178,"005":2.1781,"006":2.1782,"007":2.1782,"008":2.1783,"009":2.1783},
{"p":"HOCl","t":9.07,"000":0,"001":0.0022,"002":0.002,"003":0.0019,"004":0.0019,"005":0.0019,"006":0.0019,"007":0.0019,"008":0.0019,"009":0.0018},
{"p":"HOCl","t":9.5,"000":0.0003,"001":0.0017,"002":0.0016,"003":0.0015,"004":0.0015,"005":0.0015,"006":0.0015,"007":0.0015,"008":0.0015,"009":0.0014},
{"p":"HOCl","t":10,"000":0.0008,"001":0.0016,"002":0.0015,"003":0.0014,"004":0.0014,"005":0.0014,"006":0.0014,"007":0.0014,"008":0.0014,"009":0.0013},
{"p":"HOCl","t":11,"000":0.0027,"001":0.0032,"002":0.0031,"003":0.003,"004":0.003,"005":0.003,"006":0.003,"007":0.003,"008":0.003,"009":0.003},
{"p":"HOCl","t":12,"000":0.0056,"001":0.0057,"002":0.0056,"003":0.0055,"004":0.0055,"005":0.0055,"006":0.0055,"007":0.0055,"008":0.0055,"009":0.0055},
{"p":"HOCl","t":13,"000":0.0077,"001":0.0074,"002":0.0073,"003":0.0072,"004":0.0072,"005":0.0072,"006":0.0072,"007":0.0072,"008":0.0072,"009":0.0071},
{"p":"HOCl","t":14,"000":0.0084,"001":0.0079,"002":0.0077,"003":0.0075,"004":0.0075,"005":0.0075,"006":0.0075,"007":0.0075,"008":0.0075,"009":0.0074},
{"p":"HOCl","t":15,"000":0.0077,"001":0.0071,"002":0.0069,"003":0.0067,"004":0.0067,"005":0.0067,"006":0.0067,"007":0.0067,"008":0.0067,"009":0.0065},
{"p":"HOCl","t":16,"000":0.0062,"001":0.0056,"002":0.0054,"003":0.0052,"004":0.0052,"005":0.0052,"006":0.0052,"007":0.0052,"008":0.0052,"009":0.0051},
{"p":"HOCl","t":16.7,"000":0.005,"001":0.0045,"002":0.0043,"003":0.0041,"004":0.0041,"005":0.0041,"006":0.0041,"007":0.0041,"008":0.0041,"009":0.004},
{"p":"HOCl","t":17.2,"000":0.0039,"001":0.0035,"002":0.0033,"003":0.0031,"004":0.0031,"005":0.0031,"006":0.0031,"007":0.0031,"008":0.0031,"009":0.003},
{"p":"HOCl","t":17.6,"000":0.0031,"001":0.0027,"002":0.0025,"003":0.0024,"004":0.0024,"005":0.0024,"006":0.0024,"007":0.0024,"008":0.0024,"009":0.0023},
{"p":"HOCl","t":17.9,"000":0.0027,"001":0.0025,"002":0.0023,"003":0.0022,"004":0.0022,"005":0.0022,"006":0.0022,"007":0.0022,"008":0.0022,"009":0.0021},
{"p":"HOCl","t":18.2,"000":0.0026,"001":0.0024,"002":0.0023,"003":0.0022,"004":0.0022,"005":0.0022,"006":0.0022,"007":0.0022,"008":0.0022,"009":0.0021},
{"p":"HOCl","t":19,"000":0.0026,"001":0.0024,"002":0.0023,"003":0.0022,"004":0.0022,"005":0.0022,"006":0.0022,"007":0.0022,"008":0.0022,"009":0.0021},
{"p":"HOCl","t":31,"000":0.0026,"001":0.0024,"002":0.0023,"003":0.0022,"004":0.0022,"005":0.0022,"006":0.0022,"007":0.0022,"008":0.0022,"009":0.0021},
{"p":"HOCl","t":31.9,"000":0.0016,"001":0.0015,"002":0.0015,"003":0.0014,"004":0.0014,"005":0.0014,"006":0.0014,"007":0.0014,"008":0.0014,"009":0.0014},
{"p":"HNO3","t":9.07,"000":8.67,"001":8.12,"002":7.81,"003":7.66,"004":7.57,"005":7.51,"006":7.48,"007":7.47,"008":7.465,"009":7.46},
{"p":"HNO3","t":10,"000":8.665,"001":8.115,"002":7.805,"003":7.655,"004":7.565,"005":7.505,"006":7.475,"007":7.465,"008":7.46,"009":7.455},
{"p":"HNO3","t":11,"000":8.65,"001":8.1,"002":7.795,"003":7.645,"004":7.555,"005":7.495,"006":7.465,"007":7.455,"008":7.45,"009":7.445},
{"p":"HNO3","t":12,"000":8.63,"001":8.085,"002":7.785,"003":7.635,"004":7.545,"005":7.485,"006":7.455,"007":7.445,"008":7.44,"009":7.435},
{"p":"HNO3","t":13,"000":8.6,"001":8.07,"002":7.775,"003":7.625,"004":7.535,"005":7.475,"006":7.445,"007":7.435,"008":7.43,"009":7.425},
{"p":"HNO3","t":14,"000":8.575,"001":8.055,"002":7.765,"003":7.615,"004":7.525,"005":7.465,"006":7.435,"007":7.425,"008":7.42,"009":7.415},
{"p":"HNO3","t":15,"000":8.555,"001":8.045,"002":7.76,"003":7.61,"004":7.52,"005":7.46,"006":7.43,"007":7.42,"008":7.415,"009":7.41},
{"p":"HNO3","t":16,"000":8.545,"001":8.035,"002":7.755,"003":7.605,"004":7.515,"005":7.455,"006":7.425,"007":7.415,"008":7.41,"009":7.405},
{"p":"HNO3","t":17,"000":8.54,"001":8.03,"002":7.755,"003":7.605,"004":7.51,"005":7.45,"006":7.42,"007":7.41,"008":7.405,"009":7.4},
{"p":"HNO3","t":18,"000":8.535,"001":8.03,"002":7.755,"003":7.605,"004":7.51,"005":7.45,"006":7.42,"007":7.41,"008":7.405,"009":7.4},
{"p":"HNO3","t":19,"000":8.535,"001":8.03,"002":7.76,"003":7.61,"004":7.515,"005":7.455,"006":7.425,"007":7.415,"008":7.41,"009":7.405},
{"p":"HNO3","t":20,"000":8.54,"001":8.035,"002":7.765,"003":7.615,"004":7.52,"005":7.46,"006":7.43,"007":7.42,"008":7.415,"009":7.41},
{"p":"HNO3","t":22,"000":8.55,"001":8.05,"002":7.78,"003":7.63,"004":7.535,"005":7.475,"006":7.445,"007":7.435,"008":7.43,"009":7.425},
{"p":"HNO3","t":24,"000":8.57,"001":8.07,"002":7.8,"003":7.65,"004":7.555,"005":7.495,"006":7.465,"007":7.455,"008":7.45,"009":7.445},
{"p":"HNO3","t":26,"000":8.59,"001":8.1,"002":7.83,"003":7.68,"004":7.585,"005":7.525,"006":7.495,"007":7.485,"008":7.48,"009":7.475},
{"p":"HNO3","t":28,"000":8.61,"001":8.13,"002":7.87,"003":7.72,"004":7.625,"005":7.565,"006":7.535,"007":7.525,"008":7.52,"009":7.515},
{"p":"HNO3","t":30,"000":8.64,"001":8.16,"002":7.91,"003":7.76,"004":7.665,"005":7.605,"006":7.575,"007":7.565,"008":7.56,"009":7.555},
{"p":"HNO3","t":30.9,"000":8.655,"001":8.19,"002":7.95,"003":7.79,"004":7.7,"005":7.645,"006":7.615,"007":7.605,"008":7.6,"009":7.595},
{"p":"HNO3","t":31.9,"000":8.66,"001":8.21,"002":7.97,"003":7.81,"004":7.72,"005":7.67,"006":7.64,"007":7.63,"008":7.625,"009":7.62},
{"p":"NOx","t":9.07,"000":4.55,"001":4.55,"002":4.55,"003":4.55,"004":4.55,"005":4.55,"006":4.55,"007":4.55,"008":4.55,"009":4.55},
{"p":"NOx","t":10,"000":4.688,"001":4.707,"002":4.717,"003":4.724,"004":4.726,"005":4.728,"006":4.728,"007":4.729,"008":4.729,"009":4.73},
{"p":"NOx","t":11,"000":4.81,"001":4.867,"002":4.9,"003":4.922,"004":4.929,"005":4.932,"006":4.935,"007":4.936,"008":4.938,"009":4.94},
{"p":"NOx","t":12,"000":4.916,"001":5.015,"002":5.071,"003":5.11,"004":5.121,"005":5.127,"006":5.131,"007":5.134,"008":5.136,"009":5.14},
{"p":"NOx","t":13,"000":5.028,"001":5.166,"002":5.244,"003":5.298,"004":5.313,"005":5.322,"006":5.328,"007":5.331,"008":5.334,"009":5.34},
{"p":"NOx","t":14,"000":5.13,"001":5.302,"002":5.4,"003":5.467,"004":5.486,"005":5.498,"006":5.505,"007":5.509,"008":5.512,"009":5.52},
{"p":"NOx","t":15,"000":5.198,"001":5.398,"002":5.511,"003":5.589,"004":5.611,"005":5.624,"006":5.633,"007":5.637,"008":5.641,"009":5.65},
{"p":"NOx","t":16,"000":5.236,"001":5.454,"002":5.578,"003":5.663,"004":5.687,"005":5.702,"006":5.711,"007":5.716,"008":5.72,"009":5.73},
{"p":"NOx","t":17,"000":5.26,"001":5.49,"002":5.62,"003":5.71,"004":5.735,"005":5.75,"006":5.76,"007":5.765,"008":5.77,"009":5.78},
{"p":"NOx","t":17.6,"000":5.27,"001":5.5,"002":5.63,"003":5.72,"004":5.745,"005":5.76,"006":5.77,"007":5.775,"008":5.78,"009":5.79},
{"p":"NOx","t":18,"000":5.245,"001":5.473,"002":5.602,"003":5.691,"004":5.715,"005":5.73,"006":5.74,"007":5.745,"008":5.75,"009":5.76},
{"p":"NOx","t":19,"000":5.141,"001":5.364,"002":5.49,"003":5.577,"004":5.601,"005":5.616,"006":5.626,"007":5.63,"008":5.635,"009":5.645},
{"p":"NOx","t":20,"000":5.031,"001":5.249,"002":5.373,"003":5.458,"004":5.482,"005":5.497,"006":5.506,"007":5.511,"008":5.516,"009":5.525},
{"p":"NOx","t":22,"000":4.812,"001":5.019,"002":5.136,"003":5.217,"004":5.239,"005":5.253,"006":5.262,"007":5.267,"008":5.271,"009":5.28},
{"p":"NOx","t":24,"000":4.588,"001":4.783,"002":4.894,"003":4.97,"004":4.992,"005":5.005,"006":5.013,"007":5.017,"008":5.022,"009":5.03},
{"p":"NOx","t":26,"000":4.369,"001":4.555,"002":4.66,"003":4.733,"004":4.754,"005":4.766,"006":4.774,"007":4.778,"008":4.782,"009":4.79},
{"p":"NOx","t":28,"000":4.15,"001":4.327,"002":4.427,"003":4.496,"004":4.515,"005":4.527,"006":4.535,"007":4.538,"008":4.542,"009":4.55},
{"p":"NOx","t":30,"000":3.91,"001":4.078,"002":4.173,"003":4.239,"004":4.257,"005":4.268,"006":4.275,"007":4.279,"008":4.283,"009":4.29},
{"p":"NOx","t":30.9,"000":3.801,"001":3.964,"002":4.056,"003":4.12,"004":4.138,"005":4.149,"006":4.156,"007":4.159,"008":4.163,"009":4.17},
{"p":"NOx","t":31.9,"000":3.961,"001":4.124,"002":4.216,"003":4.28,"004":4.298,"005":4.309,"006":4.316,"007":4.319,"008":4.323,"009":4.33},
{"p":"N2O5","t":9.07,"000":0.47,"001":0.744,"002":0.885,"003":0.95,"004":0.99,"005":1.01,"006":1.02,"007":1.03,"008":1.035,"009":1.04},
{"p":"N2O5","t":10,"000":0.443,"001":0.702,"002":0.834,"003":0.896,"004":0.934,"005":0.953,"006":0.962,"007":0.972,"008":0.976,"009":0.981},
{"p":"N2O5","t":11,"000":0.407,"001":0.646,"002":0.766,"003":0.823,"004":0.859,"005":0.877,"006":0.886,"007":0.894,"008":0.898,"009":0.902},
{"p":"N2O5","t":12,"000":0.371,"001":0.59,"002":0.699,"003":0.751,"004":0.784,"005":0.801,"006":0.809,"007":0.816,"008":0.82,"009":0.823},
{"p":"N2O5","t":13,"000":0.334,"001":0.534,"002":0.631,"003":0.679,"004":0.709,"005":0.724,"006":0.732,"007":0.738,"008":0.742,"009":0.745},
{"p":"N2O5","t":14,"000":0.298,"001":0.478,"002":0.563,"003":0.607,"004":0.634,"005":0.648,"006":0.655,"007":0.66,"008":0.664,"009":0.666},
{"p":"N2O5","t":15,"000":0.265,"001":0.427,"002":0.501,"003":0.541,"004":0.566,"005":0.579,"006":0.585,"007":0.589,"008":0.592,"009":0.594},
{"p":"N2O5","t":16,"000":0.235,"001":0.38,"002":0.445,"003":0.48,"004":0.503,"005":0.515,"006":0.521,"007":0.524,"008":0.527,"009":0.528},
{"p":"N2O5","t":17,"000":0.208,"001":0.338,"002":0.394,"003":0.426,"004":0.448,"005":0.458,"006":0.464,"007":0.466,"008":0.468,"009":0.47},
{"p":"N2O5","t":18,"000":0.19,"001":0.31,"002":0.36,"003":0.39,"004":0.41,"005":0.42,"006":0.425,"007":0.427,"008":0.429,"009":0.43},
{"p":"N2O5","t":19,"000":0.238,"001":0.36,"002":0.411,"003":0.442,"004":0.462,"005":0.472,"006":0.477,"007":0.479,"008":0.481,"009":0.482},
{"p":"N2O5","t":20,"000":0.289,"001":0.412,"002":0.465,"003":0.497,"004":0.517,"005":0.527,"006":0.532,"007":0.534,"008":0.536,"009":0.537},
{"p":"N2O5","t":22,"000":0.389,"001":0.515,"002":0.571,"003":0.605,"004":0.625,"005":0.635,"006":0.64,"007":0.642,"008":0.644,"009":0.645},
{"p":"N2O5","t":24,"000":0.488,"001":0.618,"002":0.677,"003":0.712,"004":0.732,"005":0.742,"006":0.747,"007":0.749,"008":0.751,"009":0.752},
{"p":"N2O5","t":26,"000":0.587,"001":0.72,"002":0.782,"003":0.818,"004":0.838,"005":0.848,"006":0.853,"007":0.855,"008":0.857,"009":0.858},
{"p":"N2O5","t":28,"000":0.687,"001":0.822,"002":0.888,"003":0.925,"004":0.945,"005":0.955,"006":0.96,"007":0.962,"008":0.964,"009":0.965},
{"p":"N2O5","t":30,"000":0.786,"001":0.924,"002":0.993,"003":1.032,"004":1.052,"005":1.062,"006":1.067,"007":1.069,"008":1.071,"009":1.072},
{"p":"N2O5","t":30.9,"000":0.83,"001":0.97,"002":1.04,"003":1.08,"004":1.1,"005":1.11,"006":1.115,"007":1.117,"008":1.119,"009":1.12},
{"p":"N2O5","t":31.9,"000":0.8,"001":0.93,"002":1,"003":1.03,"004":1.05,"005":1.055,"006":1.057,"007":1.058,"008":1.059,"009":1.06}
]},
"spacing":23,
"resolve":{"scale":{"color":"independent","strokeDash":"independent"}},
"hconcat":[
{"data":{"name":"c1"},"spacing":0,"bounds":"flush","vconcat":[
{"width":247,"height":63.6,"title":{"text":"650 K case 1","frame":"group","offset":1},
 "transform":[{"filter":"datum.p=='SZA'"},{"fold":["009"],"as":["k","v"]}],
 "layer":[
 {"mark":"line","encoding":{"x":{"field":"t","type":"quantitative","scale":{"domain":[8.4,32.6]},"axis":{"values":[12,18,24,30],"labels":false,"title":null}},
 "y":{"field":"v","type":"quantitative","scale":{"domain":[62,159.5],"zero":false,"nice":false},"axis":{"tickCount":20,"format":"d","title":"SZA","labelExpr":"abs(datum.value/20-round(datum.value/20))<0.01?datum.label:''","tickSize":{"condition":{"test":"abs(datum.value/20-round(datum.value/20))<0.01","value":-5},"value":-2.5}}},
 "color":{"field":"k","type":"nominal","scale":{"domain":["000","001","002","003","004","005","006","007","008","009"]},"legend":{"title":"Cycle No.:"}},
 "strokeDash":{"field":"k","type":"nominal","scale":{"domain":["000","001","002","003","004","005","006","007","008","009"],"range":[[1,2],[5,3],[5,2,1,2],[5,2,1,2,1,2],[1,0],[1,2],[5,3],[5,2,1,2],[5,2,1,2,1,2],[1,0]]},"legend":{"title":"Cycle No.:"}}}},
 {"mark":{"type":"line","opacity":0},"encoding":{"x":{"field":"t","type":"quantitative","scale":{"domain":[8.4,32.6]},"axis":{"orient":"top","values":[12,18,24,30],"labels":false,"title":null}},
 "y":{"field":"v","type":"quantitative","scale":{"domain":[62,159.5],"zero":false,"nice":false},"axis":{"orient":"right","tickCount":20,"labels":false,"title":null,"tickSize":{"condition":{"test":"abs(datum.value/20-round(datum.value/20))<0.01","value":-5},"value":-2.5}}}}}
 ],"resolve":{"axis":{"x":"independent","y":"independent"}}},
{"width":247,"height":63.6,
 "transform":[{"filter":"datum.p=='ClO'"},{"fold":["000","001","002","003","004","005","006","007","008","009"],"as":["k","v"]}],
 "layer":[
 {"mark":"line","encoding":{"x":{"field":"t","type":"quantitative","scale":{"domain":[8.4,32.6]},"axis":{"values":[12,18,24,30],"labels":false,"title":null}},
 "y":{"field":"v","type":"quantitative","scale":{"domain":[-0.006,0.132],"zero":false,"nice":false},"axis":{"tickCount":30,"format":".2f","title":"ClO [ppbv]","labelExpr":"abs(datum.value/0.02-round(datum.value/0.02))<0.01?datum.label:''","tickSize":{"condition":{"test":"abs(datum.value/0.02-round(datum.value/0.02))<0.01","value":-5},"value":-2.5}}},
 "color":{"field":"k","type":"nominal"},"strokeDash":{"field":"k","type":"nominal"}}},
 {"mark":{"type":"line","opacity":0},"encoding":{"x":{"field":"t","type":"quantitative","scale":{"domain":[8.4,32.6]},"axis":{"orient":"top","values":[12,18,24,30],"labels":false,"title":null}},
 "y":{"field":"v","type":"quantitative","scale":{"domain":[-0.006,0.132],"zero":false,"nice":false},"axis":{"orient":"right","tickCount":30,"labels":false,"title":null,"tickSize":{"condition":{"test":"abs(datum.value/0.02-round(datum.value/0.02))<0.01","value":-5},"value":-2.5}}}}}
 ],"resolve":{"axis":{"x":"independent","y":"independent"}}},
{"width":247,"height":63.6,
 "transform":[{"filter":"datum.p=='ClONO2'"},{"fold":["000","001","002","003","004","005","006","007","008","009"],"as":["k","v"]}],
 "layer":[
 {"mark":"line","encoding":{"x":{"field":"t","type":"quantitative","scale":{"domain":[8.4,32.6]},"axis":{"values":[12,18,24,30],"labels":false,"title":null}},
 "y":{"field":"v","type":"quantitative","scale":{"domain":[0.772,0.937],"zero":false,"nice":false},"axis":{"tickCount":17,"format":".2f","title":"ClONO₂ [ppbv]","labelExpr":"abs(datum.value/0.05-round(datum.value/0.05))<0.01?datum.label:''","tickSize":{"condition":{"test":"abs(datum.value/0.05-round(datum.value/0.05))<0.01","value":-5},"value":-2.5}}},
 "color":{"field":"k","type":"nominal"},"strokeDash":{"field":"k","type":"nominal"}}},
 {"mark":{"type":"line","opacity":0},"encoding":{"x":{"field":"t","type":"quantitative","scale":{"domain":[8.4,32.6]},"axis":{"orient":"top","values":[12,18,24,30],"labels":false,"title":null}},
 "y":{"field":"v","type":"quantitative","scale":{"domain":[0.772,0.937],"zero":false,"nice":false},"axis":{"orient":"right","tickCount":17,"labels":false,"title":null,"tickSize":{"condition":{"test":"abs(datum.value/0.05-round(datum.value/0.05))<0.01","value":-5},"value":-2.5}}}}}
 ],"resolve":{"axis":{"x":"independent","y":"independent"}}},
{"width":247,"height":63.6,
 "transform":[{"filter":"datum.p=='HCl'"},{"fold":["000","001","002","003","004","005","006","007","008","009"],"as":["k","v"]}],
 "layer":[
 {"mark":"line","encoding":{"x":{"field":"t","type":"quantitative","scale":{"domain":[8.4,32.6]},"axis":{"values":[12,18,24,30],"labels":false,"title":null}},
 "y":{"field":"v","type":"quantitative","scale":{"domain":[1.6346,1.6495],"zero":false,"nice":false},"axis":{"tickCount":30,"format":".3f","title":"HCl [ppbv]","labelExpr":"abs(datum.value/0.002-round(datum.value/0.002))<0.01?datum.label:''","tickSize":{"condition":{"test":"abs(datum.value/0.002-round(datum.value/0.002))<0.01","value":-5},"value":-2.5}}},
 "color":{"field":"k","type":"nominal"},"strokeDash":{"field":"k","type":"nominal"}}},
 {"mark":{"type":"line","opacity":0},"encoding":{"x":{"field":"t","type":"quantitative","scale":{"domain":[8.4,32.6]},"axis":{"orient":"top","values":[12,18,24,30],"labels":false,"title":null}},
 "y":{"field":"v","type":"quantitative","scale":{"domain":[1.6346,1.6495],"zero":false,"nice":false},"axis":{"orient":"right","tickCount":30,"labels":false,"title":null,"tickSize":{"condition":{"test":"abs(datum.value/0.002-round(datum.value/0.002))<0.01","value":-5},"value":-2.5}}}}}
 ],"resolve":{"axis":{"x":"independent","y":"independent"}}},
{"width":247,"height":63.6,
 "transform":[{"filter":"datum.p=='HOCl'"},{"fold":["000","001","002","003","004","005","006","007","008","009"],"as":["k","v"]}],
 "layer":[
 {"mark":"line","encoding":{"x":{"field":"t","type":"quantitative","scale":{"domain":[8.4,32.6]},"axis":{"values":[12,18,24,30],"labels":false,"title":null}},
 "y":{"field":"v","type":"quantitative","scale":{"domain":[-0.0008,0.0189],"zero":false,"nice":false},"axis":{"tickCount":20,"format":".3f","title":"HOCl [ppbv]","labelExpr":"abs(datum.value/0.005-round(datum.value/0.005))<0.01?datum.label:''","tickSize":{"condition":{"test":"abs(datum.value/0.005-round(datum.value/0.005))<0.01","value":-5},"value":-2.5}}},
 "color":{"field":"k","type":"nominal"},"strokeDash":{"field":"k","type":"nominal"}}},
 {"mark":{"type":"line","opacity":0},"encoding":{"x":{"field":"t","type":"quantitative","scale":{"domain":[8.4,32.6]},"axis":{"orient":"top","values":[12,18,24,30],"labels":false,"title":null}},
 "y":{"field":"v","type":"quantitative","scale":{"domain":[-0.0008,0.0189],"zero":false,"nice":false},"axis":{"orient":"right","tickCount":20,"labels":false,"title":null,"tickSize":{"condition":{"test":"abs(datum.value/0.005-round(datum.value/0.005))<0.01","value":-5},"value":-2.5}}}}}
 ],"resolve":{"axis":{"x":"independent","y":"independent"}}},
{"width":247,"height":63.6,
 "transform":[{"filter":"datum.p=='HNO3'"},{"fold":["000","001","002","003","004","005","006","007","008","009"],"as":["k","v"]}],
 "layer":[
 {"mark":"line","encoding":{"x":{"field":"t","type":"quantitative","scale":{"domain":[8.4,32.6]},"axis":{"values":[12,18,24,30],"labels":false,"title":null}},
 "y":{"field":"v","type":"quantitative","scale":{"domain":[4.85,6.04],"zero":false,"nice":false},"axis":{"tickCount":25,"format":".1f","title":"HNO₃ [ppbv]","labelExpr":"abs(datum.value/0.2-round(datum.value/0.2))<0.01?datum.label:''","tickSize":{"condition":{"test":"abs(datum.value/0.2-round(datum.value/0.2))<0.01","value":-5},"value":-2.5}}},
 "color":{"field":"k","type":"nominal"},"strokeDash":{"field":"k","type":"nominal"}}},
 {"mark":{"type":"line","opacity":0},"encoding":{"x":{"field":"t","type":"quantitative","scale":{"domain":[8.4,32.6]},"axis":{"orient":"top","values":[12,18,24,30],"labels":false,"title":null}},
 "y":{"field":"v","type":"quantitative","scale":{"domain":[4.85,6.04],"zero":false,"nice":false},"axis":{"orient":"right","tickCount":25,"labels":false,"title":null,"tickSize":{"condition":{"test":"abs(datum.value/0.2-round(datum.value/0.2))<0.01","value":-5},"value":-2.5}}}}}
 ],"resolve":{"axis":{"x":"independent","y":"independent"}}},
{"width":247,"height":63.6,
 "transform":[{"filter":"datum.p=='NOx'"},{"fold":["000","001","002","003","004","005","006","007","008","009"],"as":["k","v"]}],
 "layer":[
 {"mark":"line","encoding":{"x":{"field":"t","type":"quantitative","scale":{"domain":[8.4,32.6]},"axis":{"values":[12,18,24,30],"labels":false,"title":null}},
 "y":{"field":"v","type":"quantitative","scale":{"domain":[2.12,3.86],"zero":false,"nice":false},"axis":{"tickCount":17,"format":".1f","title":"NO+NO₂ [ppbv]","labelExpr":"abs(datum.value/0.5-round(datum.value/0.5))<0.01?datum.label:''","tickSize":{"condition":{"test":"abs(datum.value/0.5-round(datum.value/0.5))<0.01","value":-5},"value":-2.5}}},
 "color":{"field":"k","type":"nominal"},"strokeDash":{"field":"k","type":"nominal"}}},
 {"mark":{"type":"line","opacity":0},"encoding":{"x":{"field":"t","type":"quantitative","scale":{"domain":[8.4,32.6]},"axis":{"orient":"top","values":[12,18,24,30],"labels":false,"title":null}},
 "y":{"field":"v","type":"quantitative","scale":{"domain":[2.12,3.86],"zero":false,"nice":false},"axis":{"orient":"right","tickCount":17,"labels":false,"title":null,"tickSize":{"condition":{"test":"abs(datum.value/0.5-round(datum.value/0.5))<0.01","value":-5},"value":-2.5}}}}}
 ],"resolve":{"axis":{"x":"independent","y":"independent"}}},
{"width":247,"height":63.6,
 "transform":[{"filter":"datum.p=='N2O5'"},{"fold":["000","001","002","003","004","005","006","007","008","009"],"as":["k","v"]}],
 "layer":[
 {"mark":"line","encoding":{"x":{"field":"t","type":"quantitative","scale":{"domain":[8.4,32.6]},"axis":{"values":[12,18,24,30],"title":"Time [UTC]","maxExtent":60,"titlePadding":4,"labelExpr":"datum.value==12?['12:00:00','13.11.96']:datum.value==18?['18:00:00','13.11.96']:datum.value==24?['00:00:00','14.11.96']:['06:00:00','14.11.96']"}},
 "y":{"field":"v","type":"quantitative","scale":{"domain":[0.134,0.916],"zero":false,"nice":false},"axis":{"tickCount":17,"format":".1f","title":"N2O5 [ppbv]","labelExpr":"abs(datum.value/0.2-round(datum.value/0.2))<0.01?datum.label:''","tickSize":{"condition":{"test":"abs(datum.value/0.2-round(datum.value/0.2))<0.01","value":-5},"value":-2.5}}},
 "color":{"field":"k","type":"nominal"},"strokeDash":{"field":"k","type":"nominal"}}},
 {"mark":{"type":"line","opacity":0},"encoding":{"x":{"field":"t","type":"quantitative","scale":{"domain":[8.4,32.6]},"axis":{"orient":"top","values":[12,18,24,30],"labels":false,"title":null}},
 "y":{"field":"v","type":"quantitative","scale":{"domain":[0.134,0.916],"zero":false,"nice":false},"axis":{"orient":"right","tickCount":17,"labels":false,"title":null,"tickSize":{"condition":{"test":"abs(datum.value/0.2-round(datum.value/0.2))<0.01","value":-5},"value":-2.5}}}}}
 ],"resolve":{"axis":{"x":"independent","y":"independent"}}}
]},
{"data":{"name":"c2"},"spacing":0,"bounds":"flush","vconcat":[
{"width":246,"height":6.7,"title":{"text":"650 K case 2","frame":"group","offset":1},"view":{"stroke":null},"mark":{"type":"rule","opacity":0},"encoding":{}},
{"width":246,"height":63,
 "transform":[{"filter":"datum.p=='SZA'"},{"fold":["009"],"as":["k","v"]}],
 "layer":[
 {"mark":"line","encoding":{"x":{"field":"t","type":"quantitative","scale":{"domain":[8.4,32.6]},"axis":{"values":[12,18,24,30],"labels":false,"title":null}},
 "y":{"field":"v","type":"quantitative","scale":{"domain":[63,158],"zero":false,"nice":false},"axis":{"tickCount":20,"format":"d","title":"SZA","labelExpr":"abs(datum.value/20-round(datum.value/20))<0.01?datum.label:''","tickSize":{"condition":{"test":"abs(datum.value/20-round(datum.value/20))<0.01","value":-5},"value":-2.5}}},
 "color":{"field":"k","type":"nominal","scale":{"domain":["000","001","002","003","004","005","006","007","008","009"]},"legend":{"title":"Cycle No.:"}},
 "strokeDash":{"field":"k","type":"nominal","scale":{"domain":["000","001","002","003","004","005","006","007","008","009"],"range":[[1,2],[5,3],[5,2,1,2],[5,2,1,2,1,2],[1,0],[1,2],[5,3],[5,2,1,2],[5,2,1,2,1,2],[1,0]]},"legend":{"title":"Cycle No.:"}}}},
 {"mark":{"type":"line","opacity":0},"encoding":{"x":{"field":"t","type":"quantitative","scale":{"domain":[8.4,32.6]},"axis":{"orient":"top","values":[12,18,24,30],"labels":false,"title":null}},
 "y":{"field":"v","type":"quantitative","scale":{"domain":[63,158],"zero":false,"nice":false},"axis":{"orient":"right","tickCount":20,"labels":false,"title":null,"tickSize":{"condition":{"test":"abs(datum.value/20-round(datum.value/20))<0.01","value":-5},"value":-2.5}}}}}
 ],"resolve":{"axis":{"x":"independent","y":"independent"}}},
{"width":246,"height":63,
 "transform":[{"filter":"datum.p=='ClO'"},{"fold":["000","001","002","003","004","005","006","007","008","009"],"as":["k","v"]}],
 "layer":[
 {"mark":"line","encoding":{"x":{"field":"t","type":"quantitative","scale":{"domain":[8.4,32.6]},"axis":{"values":[12,18,24,30],"labels":false,"title":null}},
 "y":{"field":"v","type":"quantitative","scale":{"domain":[-0.0035,0.1106],"zero":false,"nice":false},"axis":{"tickCount":25,"format":".2f","title":"ClO [ppbv]","labelExpr":"abs(datum.value/0.02-round(datum.value/0.02))<0.01?datum.label:''","tickSize":{"condition":{"test":"abs(datum.value/0.02-round(datum.value/0.02))<0.01","value":-5},"value":-2.5}}},
 "color":{"field":"k","type":"nominal"},"strokeDash":{"field":"k","type":"nominal"}}},
 {"mark":{"type":"line","opacity":0},"encoding":{"x":{"field":"t","type":"quantitative","scale":{"domain":[8.4,32.6]},"axis":{"orient":"top","values":[12,18,24,30],"labels":false,"title":null}},
 "y":{"field":"v","type":"quantitative","scale":{"domain":[-0.0035,0.1106],"zero":false,"nice":false},"axis":{"orient":"right","tickCount":25,"labels":false,"title":null,"tickSize":{"condition":{"test":"abs(datum.value/0.02-round(datum.value/0.02))<0.01","value":-5},"value":-2.5}}}}}
 ],"resolve":{"axis":{"x":"independent","y":"independent"}}},
{"width":246,"height":63,
 "transform":[{"filter":"datum.p=='ClONO2'"},{"fold":["000","001","002","003","004","005","006","007","008","009"],"as":["k","v"]}],
 "layer":[
 {"mark":"line","encoding":{"x":{"field":"t","type":"quantitative","scale":{"domain":[8.4,32.6]},"axis":{"values":[12,18,24,30],"labels":false,"title":null}},
 "y":{"field":"v","type":"quantitative","scale":{"domain":[0.855,0.985],"zero":false,"nice":false},"axis":{"tickCount":30,"format":".2f","title":"ClONO₂ [ppbv]","labelExpr":"abs(datum.value/0.02-round(datum.value/0.02))<0.01?datum.label:''","tickSize":{"condition":{"test":"abs(datum.value/0.02-round(datum.value/0.02))<0.01","value":-5},"value":-2.5}}},
 "color":{"field":"k","type":"nominal"},"strokeDash":{"field":"k","type":"nominal"}}},
 {"mark":{"type":"line","opacity":0},"encoding":{"x":{"field":"t","type":"quantitative","scale":{"domain":[8.4,32.6]},"axis":{"orient":"top","values":[12,18,24,30],"labels":false,"title":null}},
 "y":{"field":"v","type":"quantitative","scale":{"domain":[0.855,0.985],"zero":false,"nice":false},"axis":{"orient":"right","tickCount":30,"labels":false,"title":null,"tickSize":{"condition":{"test":"abs(datum.value/0.02-round(datum.value/0.02))<0.01","value":-5},"value":-2.5}}}}}
 ],"resolve":{"axis":{"x":"independent","y":"independent"}}},
{"width":246,"height":63,
 "transform":[{"filter":"datum.p=='HCl'"},{"fold":["000","001","002","003","004","005","006","007","008","009"],"as":["k","v"]}],
 "layer":[
 {"mark":"line","encoding":{"x":{"field":"t","type":"quantitative","scale":{"domain":[8.4,32.6]},"axis":{"values":[12,18,24,30],"labels":false,"title":null}},
 "y":{"field":"v","type":"quantitative","scale":{"domain":[2.1612,2.1788],"zero":false,"nice":false},"axis":{"tickCount":18,"format":".3f","title":"HCl [ppbv]","labelExpr":"abs(datum.value/0.005-round(datum.value/0.005))<0.01?datum.label:''","tickSize":{"condition":{"test":"abs(datum.value/0.005-round(datum.value/0.005))<0.01","value":-5},"value":-2.5}}},
 "color":{"field":"k","type":"nominal"},"strokeDash":{"field":"k","type":"nominal"}}},
 {"mark":{"type":"line","opacity":0},"encoding":{"x":{"field":"t","type":"quantitative","scale":{"domain":[8.4,32.6]},"axis":{"orient":"top","values":[12,18,24,30],"labels":false,"title":null}},
 "y":{"field":"v","type":"quantitative","scale":{"domain":[2.1612,2.1788],"zero":false,"nice":false},"axis":{"orient":"right","tickCount":18,"labels":false,"title":null,"tickSize":{"condition":{"test":"abs(datum.value/0.005-round(datum.value/0.005))<0.01","value":-5},"value":-2.5}}}}}
 ],"resolve":{"axis":{"x":"independent","y":"independent"}}},
{"width":246,"height":63,
 "transform":[{"filter":"datum.p=='HOCl'"},{"fold":["000","001","002","003","004","005","006","007","008","009"],"as":["k","v"]}],
 "layer":[
 {"mark":"line","encoding":{"x":{"field":"t","type":"quantitative","scale":{"domain":[8.4,32.6]},"axis":{"values":[12,18,24,30],"labels":false,"title":null}},
 "y":{"field":"v","type":"quantitative","scale":{"domain":[-0.0004,0.0088],"zero":false,"nice":false},"axis":{"tickCount":20,"format":".3f","title":"HOCl [ppbv]","labelExpr":"abs(datum.value/0.002-round(datum.value/0.002))<0.01?datum.label:''","tickSize":{"condition":{"test":"abs(datum.value/0.002-round(datum.value/0.002))<0.01","value":-5},"value":-2.5}}},
 "color":{"field":"k","type":"nominal"},"strokeDash":{"field":"k","type":"nominal"}}},
 {"mark":{"type":"line","opacity":0},"encoding":{"x":{"field":"t","type":"quantitative","scale":{"domain":[8.4,32.6]},"axis":{"orient":"top","values":[12,18,24,30],"labels":false,"title":null}},
 "y":{"field":"v","type":"quantitative","scale":{"domain":[-0.0004,0.0088],"zero":false,"nice":false},"axis":{"orient":"right","tickCount":20,"labels":false,"title":null,"tickSize":{"condition":{"test":"abs(datum.value/0.002-round(datum.value/0.002))<0.01","value":-5},"value":-2.5}}}}}
 ],"resolve":{"axis":{"x":"independent","y":"independent"}}},
{"width":246,"height":63,
 "transform":[{"filter":"datum.p=='HNO3'"},{"fold":["000","001","002","003","004","005","006","007","008","009"],"as":["k","v"]}],
 "layer":[
 {"mark":"line","encoding":{"x":{"field":"t","type":"quantitative","scale":{"domain":[8.4,32.6]},"axis":{"values":[12,18,24,30],"labels":false,"title":null}},
 "y":{"field":"v","type":"quantitative","scale":{"domain":[7.38,8.71],"zero":false,"nice":false},"axis":{"tickCount":27,"format":".1f","title":"HNO₃ [ppbv]","labelExpr":"abs(datum.value/0.2-round(datum.value/0.2))<0.01?datum.label:''","tickSize":{"condition":{"test":"abs(datum.value/0.2-round(datum.value/0.2))<0.01","value":-5},"value":-2.5}}},
 "color":{"field":"k","type":"nominal"},"strokeDash":{"field":"k","type":"nominal"}}},
 {"mark":{"type":"line","opacity":0},"encoding":{"x":{"field":"t","type":"quantitative","scale":{"domain":[8.4,32.6]},"axis":{"orient":"top","values":[12,18,24,30],"labels":false,"title":null}},
 "y":{"field":"v","type":"quantitative","scale":{"domain":[7.38,8.71],"zero":false,"nice":false},"axis":{"orient":"right","tickCount":27,"labels":false,"title":null,"tickSize":{"condition":{"test":"abs(datum.value/0.2-round(datum.value/0.2))<0.01","value":-5},"value":-2.5}}}}}
 ],"resolve":{"axis":{"x":"independent","y":"independent"}}},
{"width":246,"height":63,
 "transform":[{"filter":"datum.p=='NOx'"},{"fold":["000","001","002","003","004","005","006","007","008","009"],"as":["k","v"]}],
 "layer":[
 {"mark":"line","encoding":{"x":{"field":"t","type":"quantitative","scale":{"domain":[8.4,32.6]},"axis":{"values":[12,18,24,30],"labels":false,"title":null}},
 "y":{"field":"v","type":"quantitative","scale":{"domain":[3.73,5.91],"zero":false,"nice":false},"axis":{"tickCount":22,"format":".1f","title":"NO+NO₂ [ppbv]","labelExpr":"abs(datum.value/0.5-round(datum.value/0.5))<0.01?datum.label:''","tickSize":{"condition":{"test":"abs(datum.value/0.5-round(datum.value/0.5))<0.01","value":-5},"value":-2.5}}},
 "color":{"field":"k","type":"nominal"},"strokeDash":{"field":"k","type":"nominal"}}},
 {"mark":{"type":"line","opacity":0},"encoding":{"x":{"field":"t","type":"quantitative","scale":{"domain":[8.4,32.6]},"axis":{"orient":"top","values":[12,18,24,30],"labels":false,"title":null}},
 "y":{"field":"v","type":"quantitative","scale":{"domain":[3.73,5.91],"zero":false,"nice":false},"axis":{"orient":"right","tickCount":22,"labels":false,"title":null,"tickSize":{"condition":{"test":"abs(datum.value/0.5-round(datum.value/0.5))<0.01","value":-5},"value":-2.5}}}}}
 ],"resolve":{"axis":{"x":"independent","y":"independent"}}},
{"width":246,"height":63,
 "transform":[{"filter":"datum.p=='N2O5'"},{"fold":["000","001","002","003","004","005","006","007","008","009"],"as":["k","v"]}],
 "layer":[
 {"mark":"line","encoding":{"x":{"field":"t","type":"quantitative","scale":{"domain":[8.4,32.6]},"axis":{"values":[12,18,24,30],"title":"Time [UTC]","maxExtent":60,"titlePadding":4,"labelExpr":"datum.value==12?['12:00:00','13.11.96']:datum.value==18?['18:00:00','13.11.96']:datum.value==24?['00:00:00','14.11.96']:['06:00:00','14.11.96']"}},
 "y":{"field":"v","type":"quantitative","scale":{"domain":[0.164,1.146],"zero":false,"nice":false},"axis":{"tickCount":20,"format":".1f","title":"N2O5 [ppbv]","labelExpr":"abs(datum.value/0.2-round(datum.value/0.2))<0.01?datum.label:''","tickSize":{"condition":{"test":"abs(datum.value/0.2-round(datum.value/0.2))<0.01","value":-5},"value":-2.5}}},
 "color":{"field":"k","type":"nominal"},"strokeDash":{"field":"k","type":"nominal"}}},
 {"mark":{"type":"line","opacity":0},"encoding":{"x":{"field":"t","type":"quantitative","scale":{"domain":[8.4,32.6]},"axis":{"orient":"top","values":[12,18,24,30],"labels":false,"title":null}},
 "y":{"field":"v","type":"quantitative","scale":{"domain":[0.164,1.146],"zero":false,"nice":false},"axis":{"orient":"right","tickCount":20,"labels":false,"title":null,"tickSize":{"condition":{"test":"abs(datum.value/0.2-round(datum.value/0.2))<0.01","value":-5},"value":-2.5}}}}}
 ],"resolve":{"axis":{"x":"independent","y":"independent"}}}
]}
]
}
